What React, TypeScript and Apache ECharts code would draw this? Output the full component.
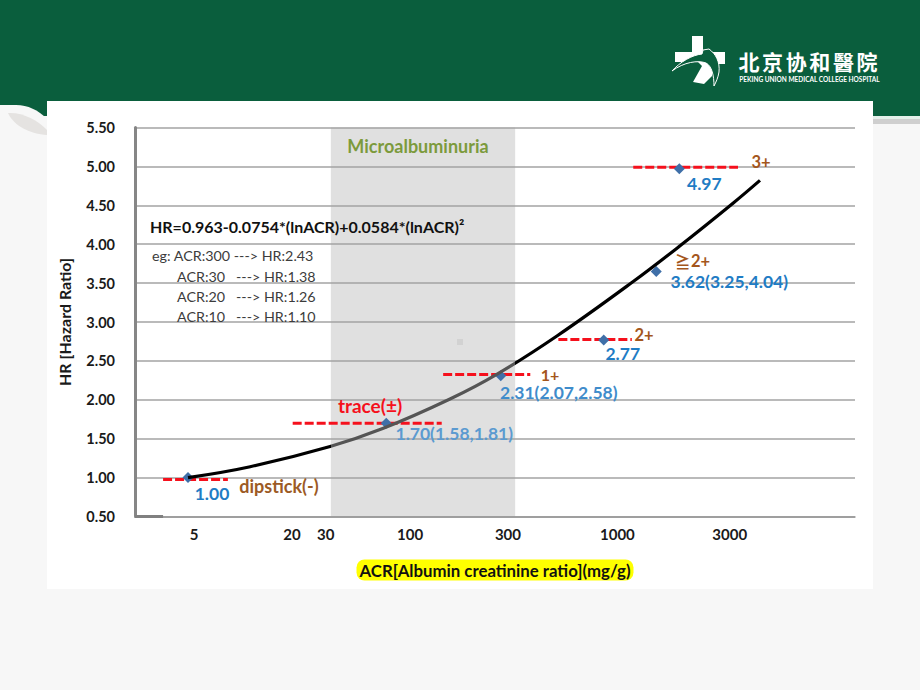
import React, { useEffect, useRef } from "react";
import * as echarts from "echarts";

// x is the position along the printed (non-proportional) ACR axis, 0-100 % of its length
const xTickPositions = [8.2, 21.8, 26.5, 38.2, 51.8, 67.0, 82.6];
const xTickLabels = ["5", "20", "30", "100", "300", "1000", "3000"];

const curvePoints = [
  [7.36, 1.0], [16.0, 1.14], [27.1, 1.4], [34.4, 1.63], [43.75, 2.01], [50.3, 2.33],
  [58.6, 2.82], [69.2, 3.52], [75.7, 3.98], [83.1, 4.53], [86.8, 4.82],
];

const dashSpans = [
  [3.9, 12.9, 0.975],
  [21.9, 42.6, 1.7],
  [42.8, 54.9, 2.325],
  [58.8, 69.0, 2.775],
  [69.2, 83.75, 4.99],
];

const markerX = [7.36, 34.9, 50.8, 65.1, 72.4, 75.6];
const markerHR = [1.0, 1.7, 2.31, 2.77, 3.65, 4.97];
const markerText = ["1.00", "1.70(1.58,1.81)", "2.31(2.07,2.58)", "2.77", "3.62(3.25,4.04)", "4.97"];
const markerTextColor = ["#1f7cc4", "#5b9ad0", "#3f8ccb", "#1f7cc4", "#1f7cc4", "#1f7cc4"];
const markerTextOffset = [[24, 15.5], [68, 10], [58, 17], [19, 14], [73, 10], [25, 15]];

const bandRange = [27.2, 52.8];
const logoChars = ["北", "京", "协", "和", "醫", "院"];

const FONT = "Lato, 'Noto Sans', sans-serif";
const CJK = "'Noto Sans CJK SC', sans-serif";
const MARKER_SIZE = 11;

echarts.graphic.registerShape(
  "cornerFill",
  echarts.graphic.extendPath("M0 105 L16 105 C28 105 38 110 47 119 L47 190 L0 190 Z", {})
);
echarts.graphic.registerShape(
  "cornerLeaf",
  echarts.graphic.extendPath("M8 113 C22 112 38 120 47 130 L47 135 C30 134 14 126 8 113 Z", {})
);
echarts.graphic.registerShape(
  "logoCross",
  echarts.graphic.extendPath(
    "M692 36 L703 36 L703 52 L725 52 L725 64 L712 64 L712 76 L704 84 L693 82 L702 66 L698 62 L675 62 L675 52 L692 52 Z",
    {}
  )
);
echarts.graphic.registerShape(
  "logoBird",
  echarts.graphic.extendPath(
    "M672 71 C680 62 692 55 702 54 L703 50 L709 49 C716 54 720 62 719 72 C718 78 716 82 714 86 C714 76 712 66 706 63 C698 60 684 62 672 71 Z",
    {}
  )
);

const txt = (text: string, x: number, y: number, font: string, fill: string, textAlign = "center") => ({
  type: "text",
  x,
  y,
  z: 60,
  silent: true,
  style: { text, font, fill, textAlign, textVerticalAlign: "middle" },
});

const rectEl = (x: number, y: number, width: number, height: number, fill: string, z = -10) => ({
  type: "rect",
  z,
  silent: true,
  shape: { x, y, width, height },
  style: { fill },
});

export default function App() {
  const ref = useRef<HTMLDivElement>(null);
  useEffect(() => {
    const chart = echarts.init(ref.current!, null, { renderer: "svg" });
    const curveMin = curvePoints[0][0];
    const curveSpan = curvePoints[curvePoints.length - 1][0] - curveMin;
    const s0 = (bandRange[0] - curveMin) / curveSpan;
    const s1 = (bandRange[1] - curveMin) / curveSpan;
    chart.setOption({
      animation: false,
      backgroundColor: "#f7f7f7",
      grid: { left: 135, top: 127.5, width: 720, height: 389 },
      xAxis: {
        type: "value",
        min: 0,
        max: 100,
        z: 3,
        splitLine: { show: false },
        axisTick: { show: false },
        axisLine: { onZero: false, lineStyle: { color: "#969696", width: 1.5 } },
        axisLabel: {
          customValues: xTickPositions,
          margin: 10,
          fontFamily: FONT,
          fontWeight: "bold",
          fontSize: 15,
          color: "#1a1a1a",
          formatter: (v: number) => xTickLabels[xTickPositions.indexOf(v)] ?? "",
        },
        name: "ACR[Albumin creatinine ratio](mg/g)",
        nameLocation: "middle",
        nameGap: 43,
        nameTextStyle: {
          fontFamily: FONT,
          fontWeight: "bold",
          fontSize: 16.8,
          color: "#111",
          backgroundColor: "#ffff00",
          borderRadius: 8,
          padding: [2, 3, 2, 3],
        },
      },
      yAxis: {
        type: "value",
        min: 0.5,
        max: 5.5,
        interval: 0.5,
        z: 3,
        axisTick: { show: false },
        axisLine: { show: true, lineStyle: { color: "#868686", width: 3 } },
        splitLine: { lineStyle: { color: "#a3a3a3", width: 1.5 } },
        axisLabel: {
          margin: 20,
          fontFamily: FONT,
          fontWeight: "bold",
          fontSize: 14.5,
          color: "#1a1a1a",
          formatter: (v: number) => v.toFixed(2),
        },
        name: "HR [Hazard Ratio]",
        nameLocation: "middle",
        nameRotate: 90,
        nameGap: 63,
        nameTextStyle: { fontFamily: FONT, fontWeight: "bold", fontSize: 16, color: "#1a1a1a" },
      },
      series: [
        {
          type: "line",
          data: [],
          z: 1,
          silent: true,
          markArea: {
            silent: true,
            itemStyle: { color: "#e0e0e0" },
            data: [[{ coord: [bandRange[0], 5.545] }, { coord: [bandRange[1], 0.5] }]],
          },
        },
        {
          type: "line",
          data: [[0, 0.5], [3.9, 0.5]],
          z: 4,
          clip: false,
          symbol: "none",
          silent: true,
          lineStyle: { color: "#808080", width: 3 },
        },
        ...dashSpans.map(([a, b, hr]) => ({
          type: "line",
          data: [[a, hr], [b, hr]],
          z: 4,
          symbol: "none",
          silent: true,
          lineStyle: { color: "#f5101c", width: 3, type: [9, 3] },
        })),
        {
          type: "scatter",
          z: 5,
          silent: true,
          symbol: "diamond",
          symbolSize: MARKER_SIZE,
          itemStyle: { color: "#3f6fa8", opacity: 1 },
          data: markerX.map((x, i) => ({
            value: [x, markerHR[i]],
            label: {
              show: true,
              position: "right",
              distance: 0,
              align: "center",
              verticalAlign: "middle",
              formatter: markerText[i],
              offset: [markerTextOffset[i][0] - MARKER_SIZE / 2, markerTextOffset[i][1]],
              color: markerTextColor[i],
              opacity: 1,
              fontFamily: FONT,
              fontWeight: "bold",
              fontSize: 17.5,
            },
          })),
        },
        {
          type: "line",
          data: curvePoints,
          z: 6,
          smooth: 0.4,
          symbol: "none",
          silent: true,
          lineStyle: {
            width: 3.2,
            color: new echarts.graphic.LinearGradient(0, 0, 1, 0, [
              { offset: 0, color: "#000000" },
              { offset: s0, color: "#000000" },
              { offset: s0, color: "#555555" },
              { offset: s1, color: "#555555" },
              { offset: s1, color: "#000000" },
              { offset: 1, color: "#000000" },
            ]),
          },
        },
      ],
      graphic: [
        rectEl(0, 0, 920, 116, "#0a5e3d", -20),
        { type: "cornerFill", z: -15, silent: true, style: { fill: "#f7f7f7" } },
        { type: "cornerLeaf", z: -14, silent: true, style: { fill: "#e5e3e1" } },
        rectEl(873, 116, 47, 3, "#e4f0ea", -15),
        rectEl(873, 119, 47, 5, "#cfcfcf", -15),
        rectEl(47, 101, 826, 488, "#ffffff"),
        rectEl(457, 339, 6, 6, "#d2d2d2", 2),
        { type: "logoCross", z: 1, silent: true, style: { fill: "#ffffff" } },
        {
          type: "logoBird",
          z: 2,
          silent: true,
          style: { fill: "#0a5e3d", stroke: "#ffffff", lineWidth: 1 },
        },
        ...logoChars.map((c, i) => txt(c, 749 + i * 23.6, 61, `bold 21px ${CJK}`, "#ffffff")),
        txt("PEKING UNION MEDICAL COLLEGE HOSPITAL", 809.5, 79, `bold 6.5px ${FONT}`, "#ffffff"),
        txt("Microalbuminuria", 418, 146, `bold 18px ${FONT}`, "#7c9a3c"),
        txt("HR=0.963-0.0754*(lnACR)+0.0584*(lnACR)²", 150, 226, `bold 16px ${FONT}`, "#111111", "left"),
        txt("eg: ACR:300 ---> HR:2.43", 152, 255, `14.3px ${FONT}`, "#3c3c3c", "left"),
        txt("ACR:30   ---> HR:1.38", 177, 276, `14.3px ${FONT}`, "#3c3c3c", "left"),
        txt("ACR:20   ---> HR:1.26", 177, 296, `14.3px ${FONT}`, "#3c3c3c", "left"),
        txt("ACR:10   ---> HR:1.10", 177, 316, `14.3px ${FONT}`, "#3c3c3c", "left"),
        txt("dipstick(-)", 279, 486, `bold 18px ${FONT}`, "#9c5a24"),
        txt("trace(±)", 370, 405, `bold 19px ${FONT}`, "#f5101c"),
        txt("1+", 550, 374, `bold 16px ${FONT}`, "#a4561c"),
        txt("2+", 644, 335, `bold 16.5px ${FONT}`, "#a4561c"),
        txt("≧", 675, 261, `bold 15.5px ${CJK}`, "#a4561c", "left"),
        txt("2+", 691, 261, `bold 16.5px ${FONT}`, "#a4561c", "left"),
        txt("3+", 761, 162, `bold 16.5px ${FONT}`, "#a4561c"),
      ],
    });
    return () => chart.dispose();
  }, []);
  return <div ref={ref} style={{ position: "fixed", left: 0, top: 0, width: 920, height: 690 }} />;
}
